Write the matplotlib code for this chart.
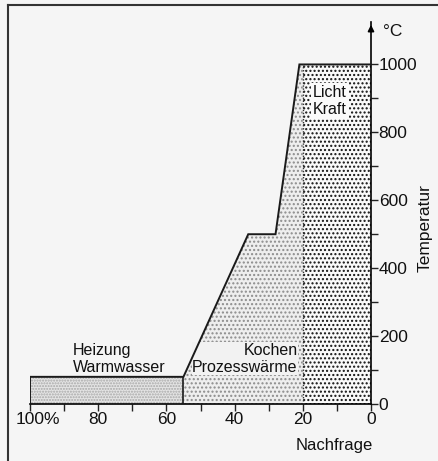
import matplotlib
matplotlib.use('Agg')
import matplotlib.pyplot as plt
from matplotlib.lines import Line2D
from matplotlib.transforms import ScaledTranslation

plt.rcParams['font.family'] = ['Liberation Sans', 'DejaVu Sans']

# Nachfrage (%) und Temperatur (°C)
heiz_x = [100, 55]
heiz_t = [80, 80]
koch_x = [55, 36, 28, 21, 20]
koch_t = [80, 500, 500, 1000, 1000]
licht_x = [20, 0]
licht_t = [1000, 1000]
umriss_x = [100, 100, 55, 36, 28, 21, 0]
umriss_t = [0, 80, 80, 500, 500, 1000, 1000]

x_ticks = [100, 80, 60, 40, 20, 0]
x_labels = ['100%', '80', '60', '40', '20', '0']
y_ticks = [0, 200, 400, 600, 800, 1000]

fig = plt.figure(figsize=(4.38, 4.61), dpi=100, facecolor='#f5f5f5')
ax = fig.add_axes([30/438, (461-404)/461, 341/438, (404-22)/461])
ax.set_facecolor('none')

ax.fill_between(heiz_x, 0, heiz_t, facecolor='#e4e4e4', edgecolor='#a8a8a8',
                hatch='......', linewidth=0)
ax.fill_between(koch_x, 0, koch_t, facecolor='#eeeeee', edgecolor='#8c8c8c',
                hatch='....', linewidth=0)
ax.fill_between(licht_x, 0, licht_t, facecolor='#fafafa', edgecolor='#111111',
                hatch='....', linewidth=0)

ax.plot(umriss_x, umriss_t, color='#1a1a1a', lw=1.4, solid_joinstyle='miter', zorder=5)
ax.plot([55, 55], [0, 80], color='#1a1a1a', lw=1.2, zorder=5)
ax.plot([20, 20], [0, 1000], color='#333333', lw=1.0, ls=(0, (1, 1.2)), zorder=5)

ax.set_xlim(100, 0)
ax.set_ylim(0, 1125)

for s in ['left', 'top']:
    ax.spines[s].set_visible(False)
ax.spines['bottom'].set_linewidth(1.2)
ax.spines['right'].set_linewidth(1.2)
ax.annotate('', xy=(0, 1125), xytext=(0, 1090),
            arrowprops=dict(arrowstyle='-|>', color='k', lw=1.2, mutation_scale=9),
            annotation_clip=False)

ax.yaxis.tick_right()
ax.set_xticks(x_ticks)
ax.set_xticklabels(x_labels)
ax.set_xticks([90, 70, 50, 30, 10], minor=True)
ax.set_yticks(y_ticks)
ax.set_yticks([100, 300, 500, 700, 900], minor=True)
ax.tick_params(axis='both', which='both', length=5, width=1, color='#222222',
               labelsize=12.5, pad=1, labelcolor='#111111')
ax.tick_params(axis='y', which='both', pad=0.5)
lab = ax.get_xticklabels()[0]
lab.set_transform(lab.get_transform() + ScaledTranslation(8/100, 0, fig.dpi_scale_trans))

ax.text(-3.5, 1097, '°C', fontsize=12.5, ha='left', va='center', color='#111111')
fig.text(425/438, 1 - 228/461, 'Temperatur', rotation=90,
         fontsize=12.5, ha='center', va='center', color='#111111')
fig.text(0.675, 1 - 445/461, 'Nachfrage', fontsize=12, ha='left', va='center',
         color='#111111')

ax.text(87.5, 133, 'Heizung\nWarmwasser', fontsize=11.5, ha='left', va='center',
        linespacing=1.15, color='#111111')
ax.text(21.5, 133, 'Kochen\nProzesswärme', fontsize=11.5, ha='right', va='center',
        linespacing=1.15, color='#111111', multialignment='right',
        bbox=dict(facecolor='#f2f2f2', edgecolor='none', pad=0.5))
ax.text(17, 893, 'Licht\nKraft', fontsize=11.5, ha='left', va='center',
        linespacing=1.15, color='#111111',
        bbox=dict(facecolor='#fafafa', edgecolor='none', pad=1.5))

# Rahmen oben und links
fig.add_artist(Line2D([8/438, 8/438], [0, 1 - 5/461], transform=fig.transFigure,
                      color='#333333', lw=1.5))
fig.add_artist(Line2D([8/438, 1], [1 - 5/461, 1 - 5/461], transform=fig.transFigure,
                      color='#333333', lw=1.5))

fig.savefig('out.png', dpi=100, facecolor=fig.get_facecolor())
